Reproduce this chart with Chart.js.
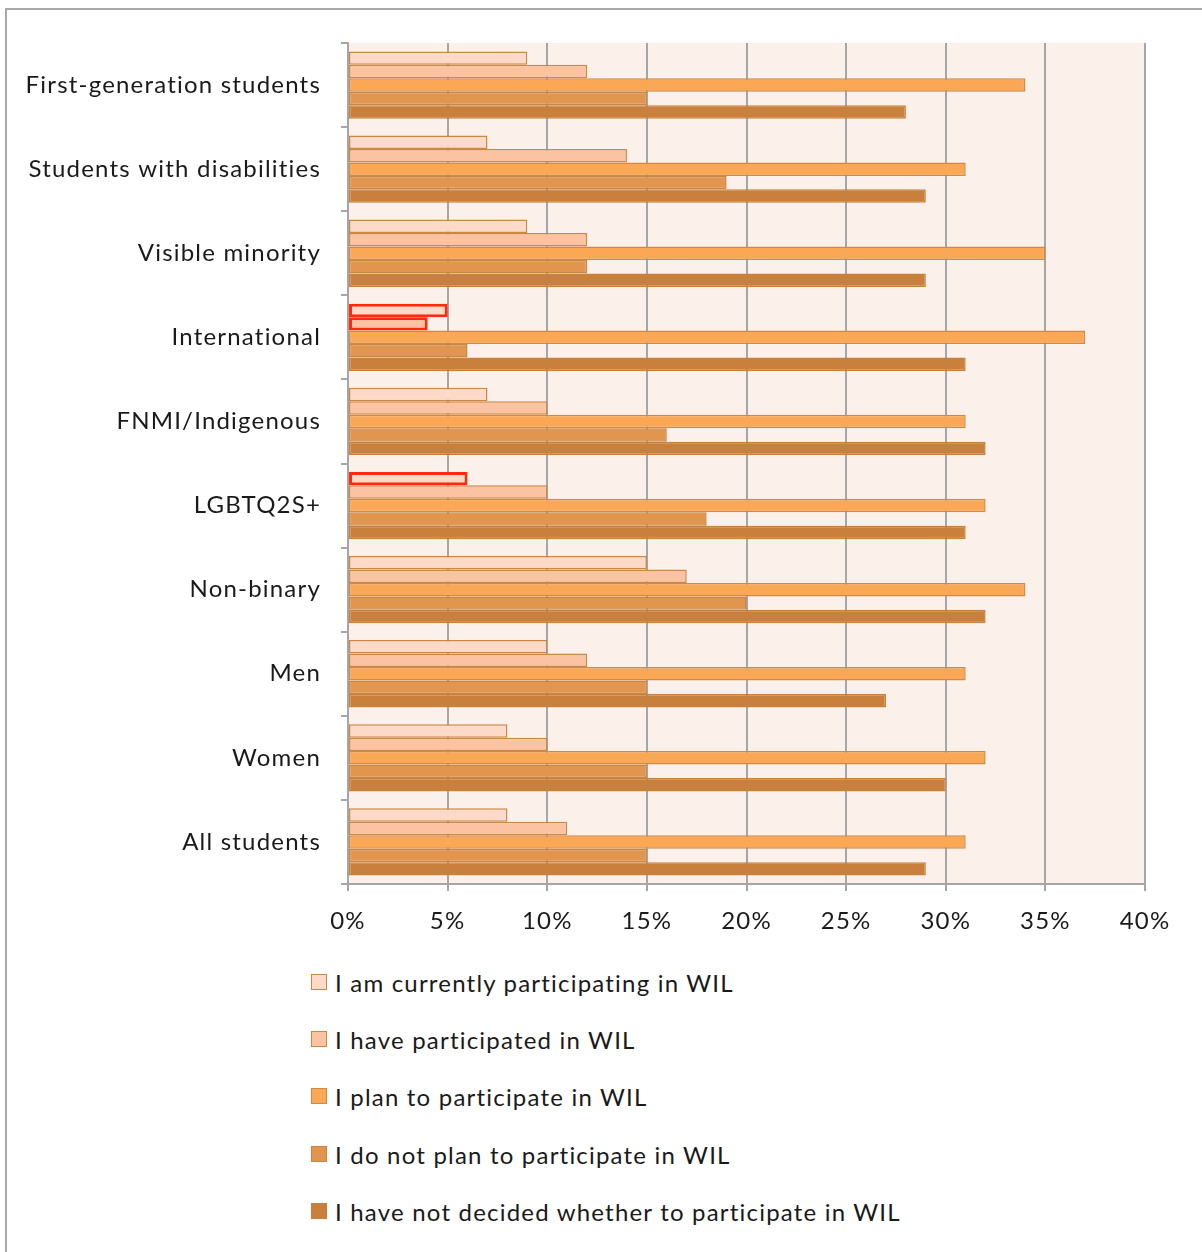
<!DOCTYPE html>
<html>
<head>
<meta charset="utf-8">
<script src="https://cdn.jsdelivr.net/npm/chart.js@4"></script>
<style>
  html, body { margin: 0; padding: 0; background: #fff; }
  body { width: 1202px; height: 1252px; position: relative; overflow: hidden; font-family: Lato, "Open Sans", sans-serif; }
  #frame { position: absolute; left: 5px; top: 8px; width: 1300px; height: 1400px; border-left: 2px solid #a9a9a9; border-top: 2px solid #a9a9a9; }
  #wrap { position: absolute; left: 0; top: 0; width: 1202px; height: 960px; }
  #legend { position: absolute; left: 311px; top: 0; }
  .li { position: absolute; left: 0; white-space: nowrap; font-size: 24px; letter-spacing: 1.2px; color: #1a1a1a; display: flex; align-items: center; }
  .box { width: 14px; height: 14px; border: 1.5px solid #c98440; margin-right: 8px; box-sizing: content-box; }
</style>
</head>
<body>
<div id="frame"></div>
<div id="wrap"><canvas id="c"></canvas></div>
<div id="legend"></div>
<script>
const categories = ["First-generation students", "Students with disabilities", "Visible minority", "International", "FNMI/Indigenous", "LGBTQ2S+", "Non-binary", "Men", "Women", "All students"];
const seriesNames = ["I am currently participating in WIL", "I have participated in WIL", "I plan to participate in WIL", "I do not plan to participate in WIL", "I have not decided whether to participate in WIL"];
const currentlyParticipating = [9, 7, 9, 5, 7, 6, 15, 10, 8, 8];
const haveParticipated      = [12, 14, 12, 4, 10, 10, 17, 12, 10, 11];
const planToParticipate     = [34, 31, 35, 37, 31, 32, 34, 31, 32, 31];
const doNotPlan             = [15, 19, 12, 6, 16, 18, 20, 15, 15, 15];
const notDecided            = [28, 29, 29, 31, 32, 31, 32, 27, 30, 29];
const xTicks = [0, 5, 10, 15, 20, 25, 30, 35, 40];
// highlighted (red outline) points: [seriesIndex, categoryIndex]
const highlighted = [[0, 3], [1, 3], [0, 5]];

const fills = ["#FDDAC8", "#FBC3A1", "#FAA856", "#E2954F", "#C8803C"];
const borders = ["#CB8744", "#CB8744", "#D08A45", "#C98541", "#C8803C"];
const allValues = [currentlyParticipating, haveParticipated, planToParticipate, doNotPlan, notDecided];

function isHi(s, i) { return highlighted.some(h => h[0] === s && h[1] === i); }

const datasets = allValues.map((vals, s) => ({
  label: seriesNames[s],
  data: vals,
  backgroundColor: fills[s],
  borderColor: vals.map((v, i) => isHi(s, i) ? "#FF2A0A" : borders[s]),
  borderWidth: vals.map((v, i) => isHi(s, i) ? 3 : 1.5),
  borderSkipped: false,
  categoryPercentage: 0.8,
  barPercentage: 1.0
}));

const bgPlugin = {
  id: "plotBg",
  beforeDraw(chart) {
    const a = chart.chartArea, ctx = chart.ctx;
    ctx.letterSpacing = "1.2px";
    ctx.save();
    ctx.fillStyle = "#FCF0EA";
    ctx.fillRect(a.left, a.top, a.right - a.left, a.bottom - a.top);
    ctx.restore();
  }
};

const FONT = "Lato, 'Open Sans', sans-serif";
new Chart(document.getElementById("c"), {
  type: "bar",
  data: { labels: categories, datasets },
  plugins: [bgPlugin],
  options: {
    indexAxis: "y",
    responsive: true,
    maintainAspectRatio: false,
    animation: false,
    layout: { padding: { left: 0, right: 57, top: 43, bottom: 0 } },
    plugins: { legend: { display: false }, tooltip: { enabled: false } },
    scales: {
      x: {
        min: 0, max: 40,
        afterBuildTicks(scale) { scale.ticks = xTicks.map(v => ({ value: v })); },
        afterFit(scale) { scale.height = 76; },
        ticks: { callback: v => v + "%", font: { family: FONT, size: 24 }, color: "#1a1a1a", padding: 16, maxRotation: 0 },
        grid: { color: "#A6A6A6", lineWidth: 2, tickLength: 7 },
        border: { color: "#A6A6A6", width: 2 }
      },
      y: {
        afterFit(scale) { scale.width = 348; },
        ticks: { font: { family: FONT, size: 24 }, color: "#1a1a1a", padding: 20, autoSkip: false },
        grid: { offset: true, drawOnChartArea: false, color: "#A6A6A6", lineWidth: 2, tickLength: 7 },
        border: { color: "#A6A6A6", width: 2 }
      }
    }
  }
});

const legendEl = document.getElementById("legend");
const legendY = [982, 1039, 1096, 1154, 1211];
seriesNames.forEach((name, s) => {
  const d = document.createElement("div");
  d.className = "li";
  d.style.top = (legendY[s] - 15) + "px";
  d.style.height = "30px";
  const b = document.createElement("span");
  b.className = "box";
  b.style.background = fills[s];
  b.style.borderColor = borders[s];
  const t = document.createElement("span");
  t.textContent = name;
  d.appendChild(b); d.appendChild(t);
  legendEl.appendChild(d);
});
</script>
</body>
</html>
